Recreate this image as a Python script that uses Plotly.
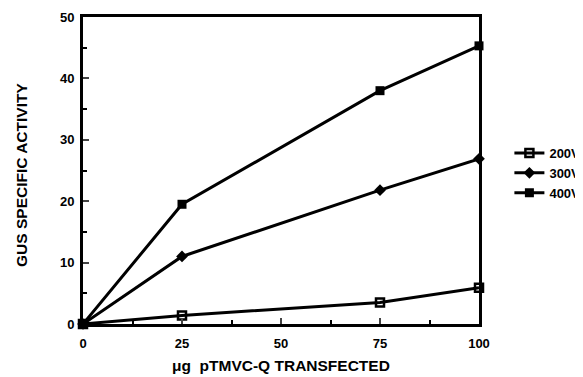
import plotly.graph_objects as go

x_vals = [0, 25, 75, 100]
v200 = [0, 1.4, 3.5, 5.9]
v300 = [0, 11.0, 21.8, 26.9]
v400 = [0, 19.5, 38.0, 45.3]
series_names = ["200V", "300V", "400V"]
x_ticks = [0, 25, 50, 75, 100]
y_ticks = [0, 10, 20, 30, 40, 50]

FAM = "Liberation Sans, Arial, sans-serif"
tfont = dict(family=FAM, size=13, color="black", weight="bold")
titlefont = dict(family=FAM, size=15.5, color="black", weight="bold")

fig = go.Figure()
styles = [
    dict(symbol="square-open", size=8, line=dict(width=2.5, color="black")),
    dict(symbol="diamond", size=9),
    dict(symbol="square", size=9),
]
for name, vals, mk in zip(series_names, [v200, v300, v400], styles):
    fig.add_trace(go.Scatter(
        x=x_vals, y=vals, name=name, mode="lines+markers",
        line=dict(color="black", width=3), marker=dict(color="black", **mk),
        cliponaxis=False,
    ))

# page body has an 8px margin, so the figure is sized/offset to compensate
fig.update_layout(
    width=575, height=369,
    margin=dict(l=75, r=104, t=9, b=53, autoexpand=False),
    paper_bgcolor="white", plot_bgcolor="white",
    font=dict(family=FAM, size=12, color="black"),
    showlegend=True,
    legend=dict(xref="container", yref="container", x=0.872, y=0.553,
                xanchor="left", yanchor="middle",
                font=dict(family=FAM, size=13, color="black", weight="bold"),
                itemwidth=30, tracegroupgap=0, bgcolor="rgba(0,0,0,0)"),
    xaxis=dict(range=[0, 100], tickvals=x_ticks, ticks="inside", ticklen=6, tickwidth=2,
               showline=True, linewidth=3, linecolor="black", mirror=True, showgrid=False,
               zeroline=False, automargin=False, ticklabelstandoff=5,
               minor=dict(tickvals=[12.5, 37.5, 62.5, 87.5], ticks="inside", ticklen=4, tickwidth=2, tickcolor="black"),
               tickfont=tfont),
    yaxis=dict(range=[0, 50], tickvals=y_ticks, ticks="inside", ticklen=6, tickwidth=2,
               showline=True, linewidth=3, linecolor="black", mirror=True, showgrid=False,
               zeroline=False, automargin=False, ticklabelstandoff=3,
               minor=dict(tickvals=[5, 15, 25, 35, 45], ticks="inside", ticklen=4, tickwidth=2, tickcolor="black"),
               tickfont=tfont),
    annotations=[
        dict(text="μg  pTMVC-Q TRANSFECTED", xref="paper", yref="paper", x=0.5, y=-0.134,
             yanchor="middle", showarrow=False, font=titlefont),
        dict(text="GUS SPECIFIC ACTIVITY", xref="paper", yref="paper", x=-0.157, y=0.485,
             textangle=-90, xanchor="center", yanchor="middle", showarrow=False, font=titlefont),
    ],
)

fig.write_html("out.html")
